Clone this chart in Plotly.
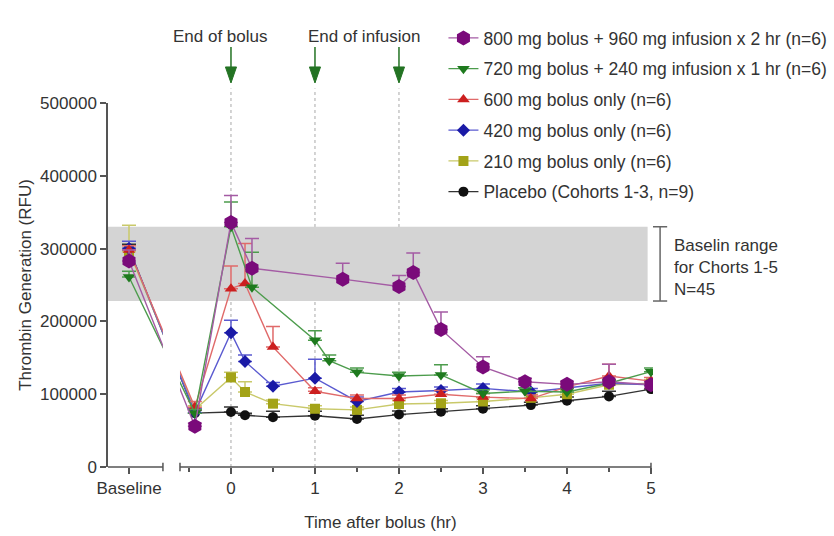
import plotly.graph_objects as go

# ---------------- data ----------------
# x positions of sampling times (hours after bolus); the baseline sample is
# placed on its own short axis segment to the left of the break.
hours_bolus_only = [-0.43, 0, 0.167, 0.5, 1, 1.5, 2, 2.5, 3, 3.57, 4, 4.5, 5]
hours_720 = [-0.43, 0, 0.25, 1, 1.17, 1.5, 2, 2.5, 3, 3.5, 4, 4.5, 5]
hours_800 = [-0.43, 0, 0.25, 1.33, 2, 2.17, 2.5, 3, 3.5, 4, 4.5, 5]

# mean thrombin generation (RFU); first value of each list is baseline
placebo_mean = [300000, 74000, 75500, 71000, 68500, 70500, 66000, 72000, 76000, 80000, 85000, 91000, 97000, 107000]
placebo_err = [6000, 4000, 7000, 3000, 8000, 6000, 5000, 5000, 4000, 4000, 4000, 5000, 7000, 5000]

mg210_mean = [296000, 79000, 123000, 103000, 87000, 80000, 78500, 86500, 87500, 90000, 95000, 100000, 113000, 115000]
mg210_err = [36000, 5000, 7000, 14000, 5000, 4000, 4000, 5000, 4000, 5000, 5000, 5000, 6000, 5000]

mg420_mean = [300000, 75000, 184500, 145000, 111000, 122000, 90000, 103000, 105000, 108000, 103000, 109000, 115000, 113000]
mg420_err = [10000, 5000, 17000, 9000, 5000, 26000, 6000, 5000, 5000, 6000, 5000, 5000, 5000, 5000]

mg600_mean = [298000, 82000, 245000, 252000, 165000, 104000, 94000, 94000, 100000, 96000, 94000, 110000, 125000, 118000]
mg600_err = [6000, 8000, 31000, 55000, 28000, 5000, 5000, 5000, 5000, 5000, 5000, 5000, 16000, 5000]

mg720_mean = [261000, 74000, 330000, 247000, 174000, 146000, 130000, 125000, 126500, 101000, 104000, 103000, 115000, 131000]
mg720_err = [8000, 5000, 34000, 48000, 13000, 8000, 6000, 5000, 14000, 5000, 5000, 5000, 5000, 5000]

mg800_mean = [283000, 56000, 336000, 273000, 258000, 248000, 267000, 189000, 137500, 117000, 113500, 117000, 113000]
mg800_err = [15000, 4000, 37000, 41000, 22000, 15000, 27000, 24000, 14000, 5000, 4000, 24000, 4000]

series_names = [
    "Placebo (Cohorts 1-3, n=9)",
    "210 mg bolus only (n=6)",
    "420 mg bolus only (n=6)",
    "600 mg bolus only (n=6)",
    "720 mg bolus + 240 mg infusion x 1 hr (n=6)",
    "800 mg bolus + 960 mg infusion x 2 hr (n=6)",
]

# baseline reference range across cohorts
band_low, band_high = 228000, 330000

x_tick_vals = [0, 1, 2, 3, 4, 5]
x_minor_vals = [-0.5, 0.5, 1.5, 2.5, 3.5, 4.5]
y_tick_vals = [0, 100000, 200000, 300000, 400000, 500000]
event_hours = [0, 1, 2]

# ---------------- axis geometry ----------------
X_MIN, X_MAX = -1.464, 5.024
BASELINE_X = -1.214          # where the baseline category sits
BREAK_LO, BREAK_HI = -0.81, -0.607
FONT = "Liberation Sans, Arial, sans-serif"
TXT = "#333333"
AX = "#555555"

styles = [
    dict(marker="circle", size=10, mcol="#111111", lcol="#333333"),
    dict(marker="square", size=10, mcol="#a3a318", lcol="#c9c96a"),
    dict(marker="diamond", size=10, mcol="#1a1aa6", lcol="#5a5ad0"),
    dict(marker="triangle-up", size=11, mcol="#cc1f1f", lcol="#e06a6a"),
    dict(marker="triangle-down", size=11, mcol="#1e7a1e", lcol="#4c9c4c"),
    dict(marker="hexagon", size=15, mcol="#7a0a7a", lcol="#a45ba4"),
]
hours = [hours_bolus_only] * 4 + [hours_720, hours_800]
means = [placebo_mean, mg210_mean, mg420_mean, mg600_mean, mg720_mean, mg800_mean]
errs = [placebo_err, mg210_err, mg420_err, mg600_err, mg720_err, mg800_err]

fig = go.Figure()
n_series = len(series_names)
for i, (name, st, hx, m, e) in enumerate(zip(series_names, styles, hours, means, errs)):
    fig.add_trace(go.Scatter(
        x=[BASELINE_X] + hx, y=m, name=name, mode="lines+markers",
        legendgroup=f"g{i}", legendrank=n_series - i,
        line=dict(color=st["lcol"], width=1.4),
        marker=dict(symbol=st["marker"], size=st["size"], color=st["mcol"]),
        error_y=dict(type="data", array=e, arrayminus=[0] * len(e), symmetric=False,
                     color=st["lcol"], thickness=1.5, width=7),
    ))

shapes = []
# baseline range band
shapes.append(dict(type="rect", xref="x", yref="y", x0=X_MIN, x1=4.96, y0=band_low, y1=band_high,
                   fillcolor="#d4d4d4", line=dict(width=0), layer="below"))
# dotted event markers
for h in event_hours:
    shapes.append(dict(type="line", xref="x", yref="paper", x0=h, x1=h, y0=0, y1=1.04,
                       line=dict(color="#a8a8a8", width=1, dash="dot"), layer="below"))
# axis break: blank out the gap, then draw the two x-axis segments with end caps
shapes.append(dict(type="rect", xref="x", yref="paper", x0=BREAK_LO, x1=BREAK_HI, y0=0, y1=0.44,
                   fillcolor="white", line=dict(width=0), layer="above"))
shapes.append(dict(type="line", xref="x", yref="paper", x0=X_MIN, x1=BREAK_LO, y0=0, y1=0,
                   line=dict(color=AX, width=1.5), layer="above"))
shapes.append(dict(type="line", xref="x", yref="paper", x0=BREAK_HI, x1=5, y0=0, y1=0,
                   line=dict(color=AX, width=1.5), layer="above"))
for bx in (BREAK_LO, BREAK_HI, 5):
    shapes.append(dict(type="line", xref="x", yref="paper", x0=bx, x1=bx, y0=-0.012, y1=0.012,
                       line=dict(color=AX, width=1.5), layer="above"))
# bracket for the baseline range
shapes.append(dict(type="line", xref="paper", yref="y", x0=1.013, x1=1.013, y0=band_low, y1=band_high,
                   line=dict(color="#666666", width=1.5)))
for yv in (band_low, band_high):
    shapes.append(dict(type="line", xref="paper", yref="y", x0=1.0, x1=1.026, y0=yv, y1=yv,
                       line=dict(color="#666666", width=1.5)))
# green event arrows
ARROW = "#237323"
for h in event_hours:
    shapes.append(dict(type="line", xref="x", yref="paper", x0=h, x1=h, y0=1.154, y1=1.095,
                       line=dict(color=ARROW, width=1.5)))
    shapes.append(dict(type="path", xref="x", yref="paper",
                       path=f"M {h - 0.066},1.099 L {h + 0.066},1.099 L {h},1.055 Z",
                       fillcolor=ARROW, line=dict(color=ARROW, width=1)))

annotations = [
    dict(text="End of bolus", x=-0.13, xref="x", y=1.214, yref="paper", showarrow=False,
         font=dict(size=17, color=TXT, family=FONT)),
    dict(text="End of infusion", x=1.58, xref="x", y=1.214, yref="paper", showarrow=False,
         font=dict(size=17, color=TXT, family=FONT)),
    dict(text="Baselin range<br>for Chorts 1-5<br>N=45", x=1.035, xref="paper", y=274000, yref="y",
         xanchor="left", yanchor="middle", align="left", showarrow=False,
         font=dict(size=17, color=TXT, family=FONT)),
]

fig.update_layout(
    width=834, height=536,
    margin=dict(l=108, r=181, t=103, b=69, autoexpand=False),
    paper_bgcolor="white", plot_bgcolor="white",
    font=dict(family=FONT, size=17, color=TXT),
    shapes=shapes, annotations=annotations,
    showlegend=True,
    legend=dict(x=0.6155, y=1.228, xanchor="left", yanchor="top",
                traceorder="grouped", tracegroupgap=5,
                font=dict(size=17.5, color=TXT, family=FONT), bgcolor="rgba(0,0,0,0)"),
    xaxis=dict(range=[X_MIN, X_MAX], showline=False, showgrid=False, zeroline=False,
               tickmode="array", tickvals=[BASELINE_X] + x_tick_vals,
               ticktext=["Baseline"] + [str(v) for v in x_tick_vals],
               ticks="outside", ticklen=6, tickwidth=1.5, tickcolor=AX,
               minor=dict(tickmode="array", tickvals=x_minor_vals, ticks="outside",
                          ticklen=4, tickwidth=1.5, tickcolor=AX),
               title=dict(text="Time after bolus (hr)", font=dict(size=17, color=TXT), standoff=18)),
    yaxis=dict(range=[0, 500000], showline=True, linecolor=AX, linewidth=1.5,
               showgrid=False, zeroline=False,
               tickmode="array", tickvals=y_tick_vals, tickformat="d",
               ticks="outside", ticklen=6, tickwidth=1.5, tickcolor=AX,
               title=dict(text="Thrombin Generation (RFU)", font=dict(size=17, color=TXT), standoff=4)),
)

fig.write_html("out.html")
